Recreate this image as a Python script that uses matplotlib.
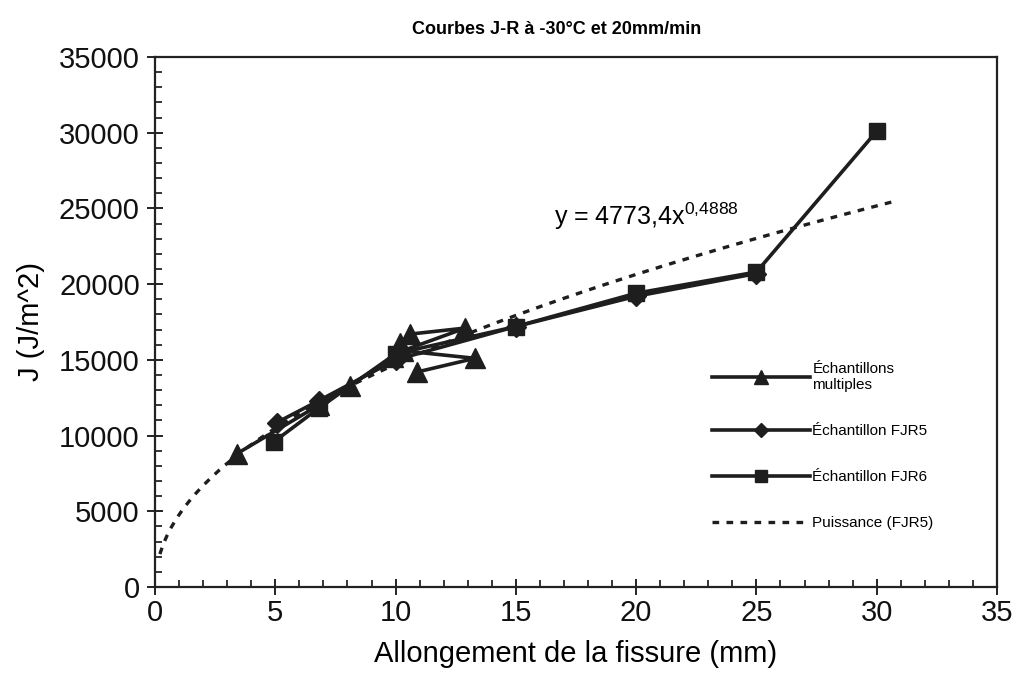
import numpy as np
import matplotlib
matplotlib.use('Agg')
import matplotlib.pyplot as plt
from matplotlib.ticker import MultipleLocator

plt.rcParams['font.family'] = ['Liberation Sans', 'DejaVu Sans']
plt.rcParams['mathtext.fontset'] = 'custom'
plt.rcParams['mathtext.rm'] = 'Liberation Sans'
plt.rcParams['mathtext.it'] = 'Liberation Sans'

# données
multi_x = [3.4, 6.8, 8.1, 9.9, 10.2, 10.6, 12.9, 10.3, 13.3, 10.9]
multi_y = [8800, 12000, 13300, 15200, 16100, 16700, 17100, 15600, 15100, 14200]

fjr5_x = [5.05, 6.8, 10.0, 15.0, 20.0, 25.0]
fjr5_y = [10850, 12300, 15000, 17200, 19200, 20700]

fjr6_x = [4.95, 6.8, 10.0, 15.0, 20.0, 25.0, 30.0]
fjr6_y = [9600, 11800, 15400, 17200, 19400, 20800, 30100]

# courbe de tendance (puissance) : coefficients affichés
coef_a = 4773.4
coef_b = 0.4888
trend_x = np.linspace(0.2, 30.8, 200)
trend_y = coef_a * trend_x ** coef_b

col = '#1e1e1e'

fig = plt.figure(figsize=(10.16, 6.9), dpi=100)
ax = fig.add_axes([0.1526, 0.1493, 0.8287, 0.7681])

ax.plot(trend_x, trend_y, color=col, lw=2.4, ls=(0, (2, 2.2)), zorder=1,
        label='Puissance (FJR5)')
ax.plot(multi_x, multi_y, color=col, lw=2.6, marker='^', ms=14, zorder=3,
        label='Échantillons\nmultiples')
ax.plot(fjr5_x, fjr5_y, color=col, lw=2.6, marker='D', ms=10, zorder=2,
        label='Échantillon FJR5')
ax.plot(fjr6_x, fjr6_y, color=col, lw=2.6, marker='s', ms=11, zorder=2,
        label='Échantillon FJR6')

ax.set_xlim(0, 35)
ax.set_ylim(0, 35000)
ax.xaxis.set_major_locator(MultipleLocator(5))
ax.xaxis.set_minor_locator(MultipleLocator(1))
ax.yaxis.set_major_locator(MultipleLocator(5000))
ax.yaxis.set_minor_locator(MultipleLocator(1000))
ax.tick_params(which='major', direction='inout', length=12, width=1.3,
               labelsize=21, colors='#111111', pad=5)
ax.tick_params(which='minor', direction='in', length=5, width=1.1)
ax.tick_params(axis='x', which='major', pad=3)
for s in ax.spines.values():
    s.set_linewidth(1.6)
    s.set_color('#222222')

ax.set_xlabel('Allongement de la fissure (mm)', fontsize=21, labelpad=9)
ax.set_ylabel('J (J/m^2)', fontsize=21, labelpad=10)

fig.text(0.548, 0.957, 'Courbes J-R à -30°C et 20mm/min', fontsize=13,
         fontweight='bold', ha='center', va='center')

ax.text(16.6, 23900, r'y = 4773,4x$^{0{,}4888}$', fontsize=18)

h, l = ax.get_legend_handles_labels()
order = [1, 2, 3, 0]
leg = ax.legend([h[i] for i in order], [l[i] for i in order],
                loc='upper left', bbox_to_anchor=(0.662, 0.425), frameon=False,
                fontsize=11, handlelength=6.4, handletextpad=0.15,
                labelspacing=2.1, markerscale=0.75, borderaxespad=0,
                borderpad=0)

fig.savefig('out.png', dpi=100)
